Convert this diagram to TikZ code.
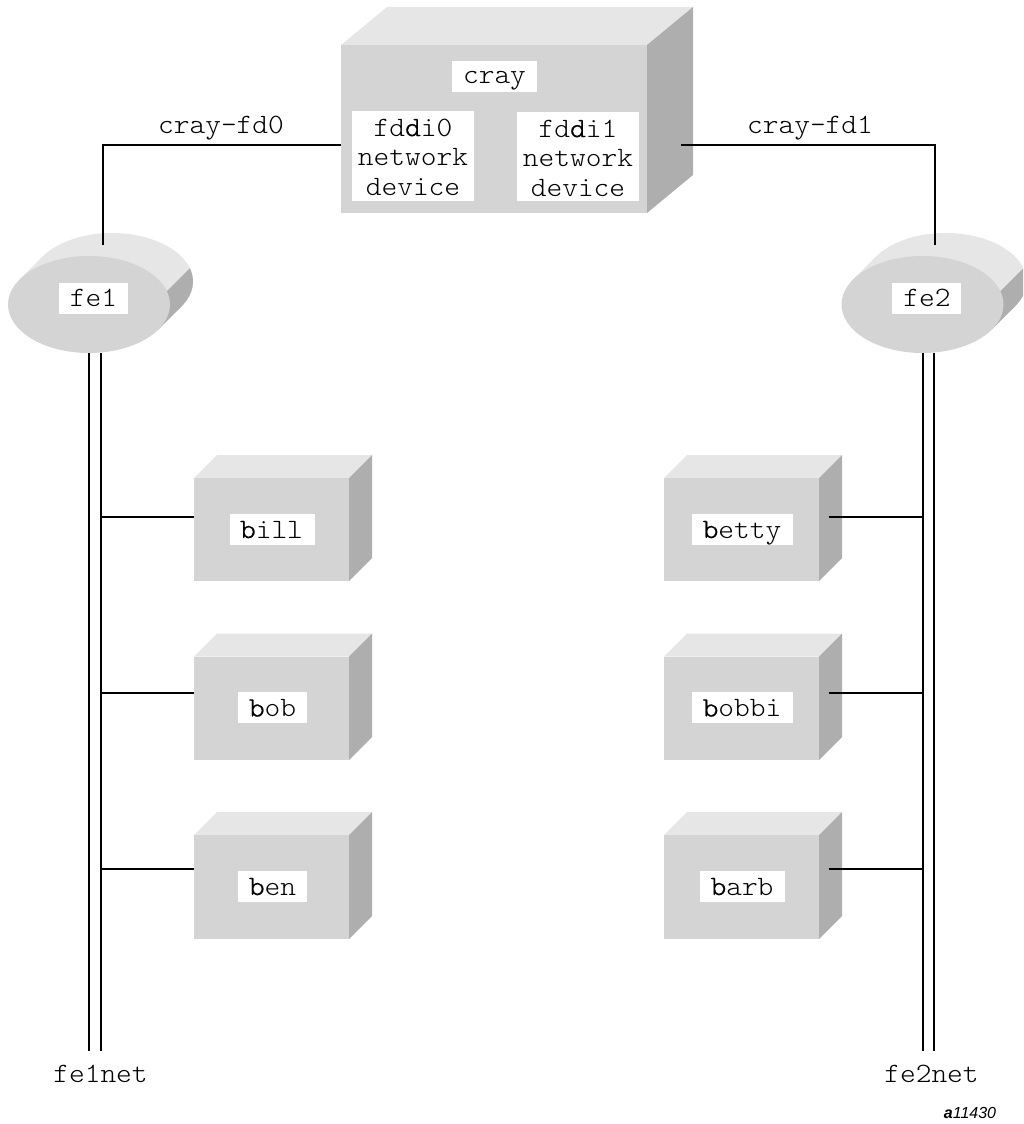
\documentclass[tikz,border=0pt]{standalone}
\usepackage{fontspec}
\setmainfont{Liberation Sans}
\setmonofont[FakeStretch=1.07]{Latin Modern Mono Light}
\newfontface\ttheavy[FakeStretch=1.07,FakeBold=0.7]{Latin Modern Mono Light}
\newcommand{\hv}[1]{{\ttheavy\fontsize{28}{29.5}\selectfont #1}}
\tikzset{
  lab/.style={font=\ttfamily\fontsize{28}{29.5}\selectfont,align=center,inner sep=0pt},
  wire/.style={draw=black,line width=1.6pt},
}
\definecolor{front}{HTML}{D4D4D4}
\definecolor{topc}{HTML}{E6E6E6}
\definecolor{sidec}{HTML}{AEAEAE}
\newcommand{\boxthree}[7]{% name x0 y0 x1 y1 dx dy
  \fill[topc] (#2,#3) -- (#2+#6,#3-#7) -- (#4+#6,#3-#7) -- (#4,#3) -- cycle;
  \fill[sidec] (#4,#3) -- (#4+#6,#3-#7) -- (#4+#6,#5-#7) -- (#4,#5) -- cycle;
  \fill[front] (#2,#3) rectangle (#4,#5);
  \coordinate (#1) at (#2,#3);
}
\newcommand{\wlabel}[8]{% name x0 y0 x1 y1 tx baseline text
  \fill[white] (#2,#3) rectangle (#4,#5);
  \node[lab,anchor=base] (#1) at (#6,#7) {#8};
}
\newcommand{\disc}[3]{% name cx cy (front centre)
  \begin{scope}
  \clip (-10,0) rectangle (1023,1124);
  \fill[topc] (#2+23,#3-23) ellipse [x radius=81,y radius=48.5];
  \fill[topc] (#2-69.4,#3-25) -- (#2-46.4,#3-48) -- (#2+92.4,#3+2) -- (#2+69.4,#3+25) -- cycle;
  \begin{scope}
    \clip (#2+78,#3-13.5) -- (#2+102,#3-37.5) -- (#2+140,#3-37.5) -- (#2+140,#3+60) -- (#2,#3+60) -- cycle;
    \fill[sidec] (#2+23,#3-23) ellipse [x radius=81,y radius=48.5];
    \fill[sidec] (#2+69.4,#3+25) -- (#2+92.4,#3+2) -- (#2+60,#3-30) -- cycle;
  \end{scope}
  \fill[front] (#2,#3) ellipse [x radius=81,y radius=48.5];
  \coordinate (#1) at (#2,#3);
  \end{scope}
}
\begin{document}
\begin{tikzpicture}[x=1pt,y=-1pt]
\useasboundingbox (0,0) rectangle (1023,1124);
\boxthree{crayb}{341}{45}{647}{213}{46}{38}
\disc{feac}{89}{304.5}
\disc{febc}{922.5}{304.5}
\boxthree{billb}{194}{478}{349}{581}{23}{23}
\boxthree{bobb}{194}{656.5}{349}{760}{23}{23}
\boxthree{benb}{194}{835}{349}{939}{23}{23}
\boxthree{bettyb}{664}{478}{819}{581}{23}{23}
\boxthree{bobbib}{664}{656.5}{819}{760}{23}{23}
\boxthree{barbb}{664}{835}{819}{939}{23}{23}

\wlabel{cray}{452}{61}{537}{92}{494.5}{84}{cray}
\fill[white] (352,111) rectangle (474,201);
\fill[white] (517,112) rectangle (639,201);
\node[lab,anchor=center] (fddia) at (413,157) {fd\hv{d}i0\\network\\device};
\node[lab,anchor=center] (fddib) at (578,158) {fd\hv{d}i1\\network\\device};
\wlabel{fea}{59}{283}{128}{314}{93.5}{306}{fe1}
\wlabel{feb}{892}{283}{961}{314}{927}{306}{fe2}
\wlabel{bill}{230}{514}{315}{545}{271.5}{538}{\hv{b}ill}
\wlabel{bob}{238}{692}{307}{723}{272.5}{716.5}{\hv{b}ob}
\wlabel{ben}{238}{871}{307}{902}{272.5}{895}{\hv{b}en}
\wlabel{betty}{692}{514}{793}{545}{742}{538}{\hv{b}etty}
\wlabel{bobbi}{692}{692}{793}{723}{742}{716.5}{\hv{b}obbi}
\wlabel{barb}{700}{871}{785}{902}{742}{895}{\hv{b}arb}

\node[lab,anchor=base] (fd0) at (221,133) {cray-fd0};
\node[lab,anchor=base] (fd1) at (810,133) {cray-fd1};
\node[lab,anchor=base] (n1) at (100.5,1082.5) {fe1net};
\node[lab,anchor=base] (n2) at (931.5,1082.5) {fe2net};
\node[font=\rmfamily\itshape\fontsize{16}{16}\selectfont,inner sep=0pt,anchor=base] (tag) at (970,1118) {\textbf{a}11430};

\coordinate (a1) at (341,145); \coordinate (a2) at (103,145); \coordinate (a3) at (103,245);
\coordinate (b1) at (681,145); \coordinate (b2) at (935,145); \coordinate (b3) at (935,245);
\draw[wire] (a1) -- (a2) -- (a3);
\draw[wire] (b1) -- (b2) -- (b3);
\coordinate (l1t) at (89,353); \coordinate (l1b) at (89,1051);
\coordinate (l2t) at (101,353); \coordinate (l2b) at (101,1051);
\coordinate (r1t) at (923,353); \coordinate (r1b) at (923,1051);
\coordinate (r2t) at (934,353); \coordinate (r2b) at (934,1051);
\draw[wire] (l1t) -- (l1b);
\draw[wire] (l2t) -- (l2b);
\draw[wire] (r1t) -- (r1b);
\draw[wire] (r2t) -- (r2b);
\draw[wire] (101,517) -- (194,517);
\draw[wire] (101,693) -- (194,693);
\draw[wire] (101,869) -- (194,869);
\draw[wire] (829,517) -- (923,517);
\draw[wire] (829,693) -- (923,693);
\draw[wire] (829,869) -- (923,869);
\end{tikzpicture}
\end{document}
